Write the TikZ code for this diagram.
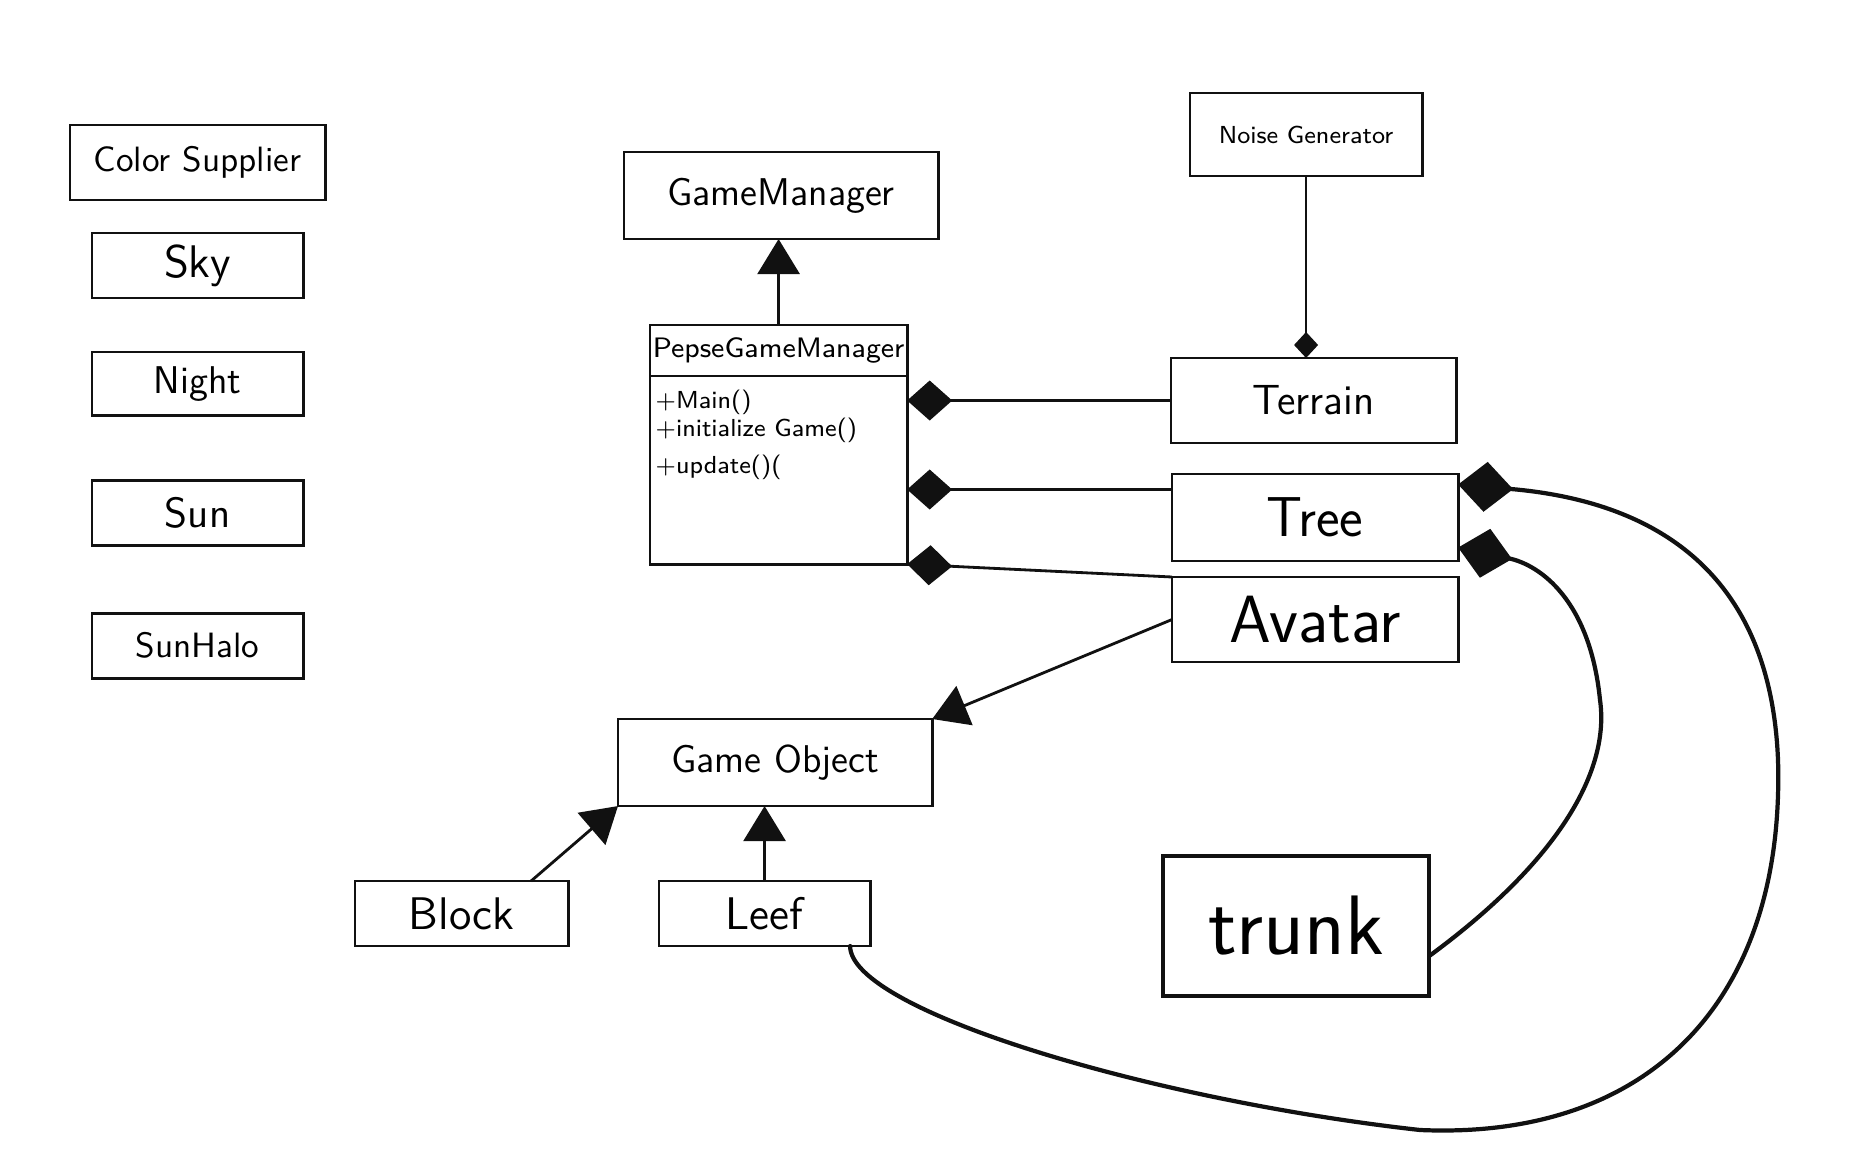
\documentclass[tikz,border=0pt]{standalone}
\usepackage{fontspec}
\usepackage{tikz}
\usetikzlibrary{arrows.meta, positioning}
\definecolor{tinta}{HTML}{111111}

\begin{document}
\begin{tikzpicture}[x=0.01cm, y=-0.01cm,
        cls/.style={draw=tinta, thick, rectangle, inner sep=0pt, outer sep=0pt, anchor=north west,
            align=center, font=\sffamily},
        trunkbox/.style={cls, very thick},
        ops/.style={inner sep=0pt, anchor=north west, align=left, font=\sffamily\fontsize{7}{8}\selectfont},
        inh/.style={-{Triangle[length=3.5mm, width=4.2mm]}, tinta, thick},
        comp/.style={-{Diamond[length=4.5mm, width=4mm]}, tinta, thick},
        compsmall/.style={-{Diamond[length=2.6mm, width=2.4mm]}, tinta, thick},
        wire/.style={-{Diamond[length=5.5mm, width=5mm]}, tinta, very thick, line cap=round}
    ]
    \useasboundingbox (0,0) rectangle (1864,1161);

    % left column
    \node[cls, minimum width=2.55cm, minimum height=0.75cm] (colsup) at (70,125) {\fontsize{10}{12}\selectfont Color Supplier};
    \node[cls, minimum width=2.11cm, minimum height=0.65cm] (sky) at (92,233) {\fontsize{13}{15}\selectfont Sky};
    \node[cls, minimum width=2.11cm, minimum height=0.63cm, below=0.54cm of sky] (night) {\fontsize{11}{13}\selectfont Night};
    \node[cls, minimum width=2.11cm, minimum height=0.65cm, below=0.65cm of night] (sun) {\fontsize{12}{14}\selectfont Sun};
    \node[cls, minimum width=2.11cm, minimum height=0.65cm, below=0.68cm of sun] (halo) {\fontsize{10}{12}\selectfont SunHalo};

    % managers
    \node[cls, minimum width=3.14cm, minimum height=0.87cm] (gm) at (624,152) {\fontsize{11}{13}\selectfont GameManager};
    \node[cls, minimum width=2.57cm, minimum height=0.51cm] (pepse) at (650,325) {\fontsize{8}{10}\selectfont PepseGameManager};
    \node[cls, minimum width=2.57cm, minimum height=1.88cm, below=0pt of pepse] (pepsebody) {};
    \node[ops] (pepseops) at ([shift={(0.05cm,-0.13cm)}]pepsebody.north west)
        {+Main()\\+initialize Game()\\[2.5pt]+update()(};

    % world
    \node[cls, minimum width=2.32cm, minimum height=0.83cm] (noise) at (1190,93) {\fontsize{7}{9}\selectfont Noise Generator};
    \node[cls, minimum width=2.85cm, minimum height=0.85cm] (terrain) at (1171,358) {\fontsize{12}{14}\selectfont Terrain};
    \node[cls, minimum width=2.86cm, minimum height=0.87cm] (tree) at (1172,474) {\fontsize{16}{18}\selectfont Tree};
    \node[cls, minimum width=2.86cm, minimum height=0.85cm] (avatar) at (1172,577) {\fontsize{19}{21}\selectfont Avatar};
    \node[trunkbox, minimum width=2.66cm, minimum height=1.40cm] (trunk) at (1163,856) {\fontsize{24}{26}\selectfont trunk};

    % objects
    \node[cls, minimum width=3.14cm, minimum height=0.87cm] (gobj) at (618,719) {\fontsize{11}{13}\selectfont Game Object};
    \node[cls, minimum width=2.13cm, minimum height=0.65cm] (block) at (355,881) {\fontsize{13}{15}\selectfont Block};
    \node[cls, minimum width=2.11cm, minimum height=0.65cm] (leef) at (659,881) {\fontsize{13}{15}\selectfont Leef};

    % inheritance
    \draw[inh] (pepse.north) -- (pepse.north |- gm.south);
    \draw[inh] (avatar.west) -- (gobj.north east);
    \draw[inh] ([xshift=-.37cm]block.north east) -- (gobj.south west);
    \draw[inh] (leef.north) -- (leef.north |- gobj.south);

    % composition
    \draw[compsmall] (noise.south) -- (noise.south |- terrain.north);
    \draw[comp] (terrain.west) -- (terrain.west -| pepsebody.east);
    \draw[comp] ([yshift=.28cm]tree.west) -- ([yshift=.28cm]tree.west -| pepsebody.east);
    \draw[comp] (avatar.north west) -- (pepsebody.south east);

    \draw[wire] ([xshift=-.2cm]leef.south east) .. controls (850,1010) and (1150,1100) .. (1420,1130)
        .. controls (1650,1140) and (1785,1000) .. (1778,760)
        .. controls (1770,560) and (1640,500) .. ([yshift=.33cm]tree.east);
    \draw[wire] ([yshift=-.3cm]trunk.east) .. controls (1560,860) and (1610,770) .. (1600,700)
        .. controls (1590,600) and (1540,565) .. ([yshift=-.3cm]tree.east);
\end{tikzpicture}
\end{document}
